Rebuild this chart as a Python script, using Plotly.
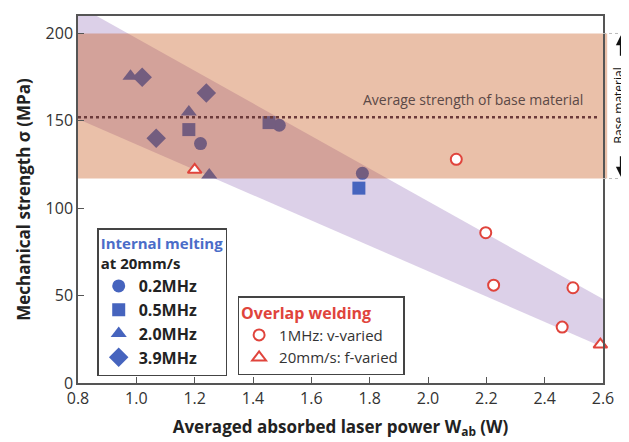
import plotly.graph_objects as go

# ---- data ----
im_02_x = [1.22, 1.49, 1.775]
im_02_y = [137, 147.5, 120]
im_05_x = [1.18, 1.455, 1.763]
im_05_y = [145, 149, 111.5]
im_20_x = [0.98, 1.18, 1.25]
im_20_y = [175.5, 155, 119]
im_39_x = [1.02, 1.24, 1.068]
im_39_y = [175, 166, 140]

ow_v_x = [2.097, 2.198, 2.225, 2.46, 2.497]
ow_v_y = [128, 86, 56, 32, 54.5]
ow_f_x = [1.2, 2.591]
ow_f_y = [122, 22]

band_purple_x = [0.8, 2.6, 2.6, 0.8]
band_purple_y = [216, 48, 20.5, 151]
base_lo, base_hi, base_avg = 117, 200, 152
x_min, x_max = 0.8, 2.6

FONT = "Open Sans"
BLUE = "#4664be"
RED = "#e0443c"
ORANGE = "rgba(198,80,18,0.36)"

fig = go.Figure()

fig.add_trace(go.Scatter(x=band_purple_x, y=band_purple_y, fill="toself", mode="none",
                         fillcolor="rgba(138,98,178,0.30)", showlegend=False, hoverinfo="skip"))

for xs, ys, sym, name, sz in [
    (im_02_x, im_02_y, "circle", "0.2MHz", 13),
    (im_05_x, im_05_y, "square", "0.5MHz", 13),
    (im_20_x, im_20_y, "triangle-up", "2.0MHz", 14),
    (im_39_x, im_39_y, "diamond", "3.9MHz", 15),
]:
    fig.add_trace(go.Scatter(x=xs, y=ys, mode="markers", name=name,
                             marker=dict(symbol=sym, size=sz, color=BLUE, line=dict(width=0)),
                             legend="legend"))

fig.add_trace(go.Scatter(x=[x_min, x_max, x_max, x_min], y=[base_lo, base_lo, base_hi, base_hi],
                         fill="toself", mode="none", fillcolor=ORANGE,
                         showlegend=False, hoverinfo="skip"))

fig.add_trace(go.Scatter(x=[x_min, 2.58], y=[base_avg, base_avg], mode="lines",
                         line=dict(color="#6b3a3a", width=2.5, dash="dot"),
                         showlegend=False, hoverinfo="skip"))

fig.add_trace(go.Scatter(x=ow_v_x, y=ow_v_y, mode="markers", name="1MHz: v-varied", cliponaxis=False,
                         marker=dict(symbol="circle", size=11, color="white", line=dict(color=RED, width=2)),
                         legend="legend2"))
fig.add_trace(go.Scatter(x=ow_f_x, y=ow_f_y, mode="markers", name="20mm/s: f-varied", cliponaxis=False,
                         marker=dict(symbol="triangle-up", size=12, color="white", line=dict(color=RED, width=2)),
                         legend="legend2"))

fig.add_annotation(x=2.153, y=162, text="Average strength of base material", showarrow=False,
                   font=dict(family=FONT, size=14, color="#5b4846"))

# right-side "Base material" marker
fig.add_annotation(xref="paper", x=1.028, xanchor="center", yanchor="middle",
                   y=(base_lo + base_hi) / 2, text="Base material",
                   textangle=-90, showarrow=False, font=dict(family=FONT, size=12, color="#111"))
fig.add_annotation(xref="paper", x=1.034, y=base_hi - 1, ax=0, ay=22, text="", showarrow=True,
                   arrowhead=2, arrowsize=1, arrowwidth=2, arrowcolor="#111")
fig.add_annotation(xref="paper", x=1.034, y=base_lo + 1, ax=0, ay=-22, text="", showarrow=True,
                   arrowhead=2, arrowsize=1, arrowwidth=2, arrowcolor="#111")
for yv in (base_lo, base_hi):
    fig.add_shape(type="line", xref="paper", x0=1.0, x1=1.06, y0=yv, y1=yv,
                  line=dict(color="#bbbbbb", width=1, dash="dot"))
fig.add_shape(type="rect", xref="paper", x0=1.0, x1=1.008, y0=base_lo, y1=base_hi,
              fillcolor=ORANGE, line=dict(width=0), layer="below")

fig.update_layout(
    width=621, height=434,
    margin=dict(l=70, r=26, t=6, b=59),
    plot_bgcolor="white", paper_bgcolor="white",
    font=dict(family=FONT, size=16, color="#333"),
    xaxis=dict(range=[x_min, x_max], dtick=0.2, tick0=0.8, tickformat=".1f",
               ticks="inside", ticklen=6, tickcolor="#555", showgrid=False, zeroline=False,
               showline=True, mirror=True, linecolor="#555", linewidth=1.5,
               tickfont=dict(family=FONT, size=16, color="#333"),
               title=dict(text="<b>Averaged absorbed laser power W<sub>ab</sub> (W)</b>",
                          font=dict(family=FONT, size=17, color="#222"), standoff=13)),
    yaxis=dict(range=[0, 210], tickvals=[0, 50, 100, 150, 200],
               ticks="inside", ticklen=6, tickcolor="#555", showgrid=False, zeroline=False,
               showline=True, mirror=True, linecolor="#555", linewidth=1.5,
               tickfont=dict(family=FONT, size=16, color="#333"),
               title=dict(text="<b>Mechanical strength σ (MPa)</b>",
                          font=dict(family=FONT, size=17, color="#222"), standoff=11)),
    legend=dict(x=0.0366, y=0.421, xanchor="left", yanchor="top",
                bgcolor="white", bordercolor="#444", borderwidth=1.5,
                font=dict(family=FONT, size=16, color="#222", weight="bold"),
                title=dict(text="<span style='color:#4a6cc8'>Internal melting</span><br>at 20mm/s",
                           font=dict(family=FONT, size=15, color="#222", weight="bold"))),
    legend2=dict(x=0.304, y=0.236, xanchor="left", yanchor="top",
                 bgcolor="white", bordercolor="#444", borderwidth=1.5,
                 font=dict(family=FONT, size=15, color="#333"),
                 title=dict(text="Overlap welding",
                            font=dict(family=FONT, size=16, color=RED, weight="bold"))),
)

fig.write_html("out.html")
